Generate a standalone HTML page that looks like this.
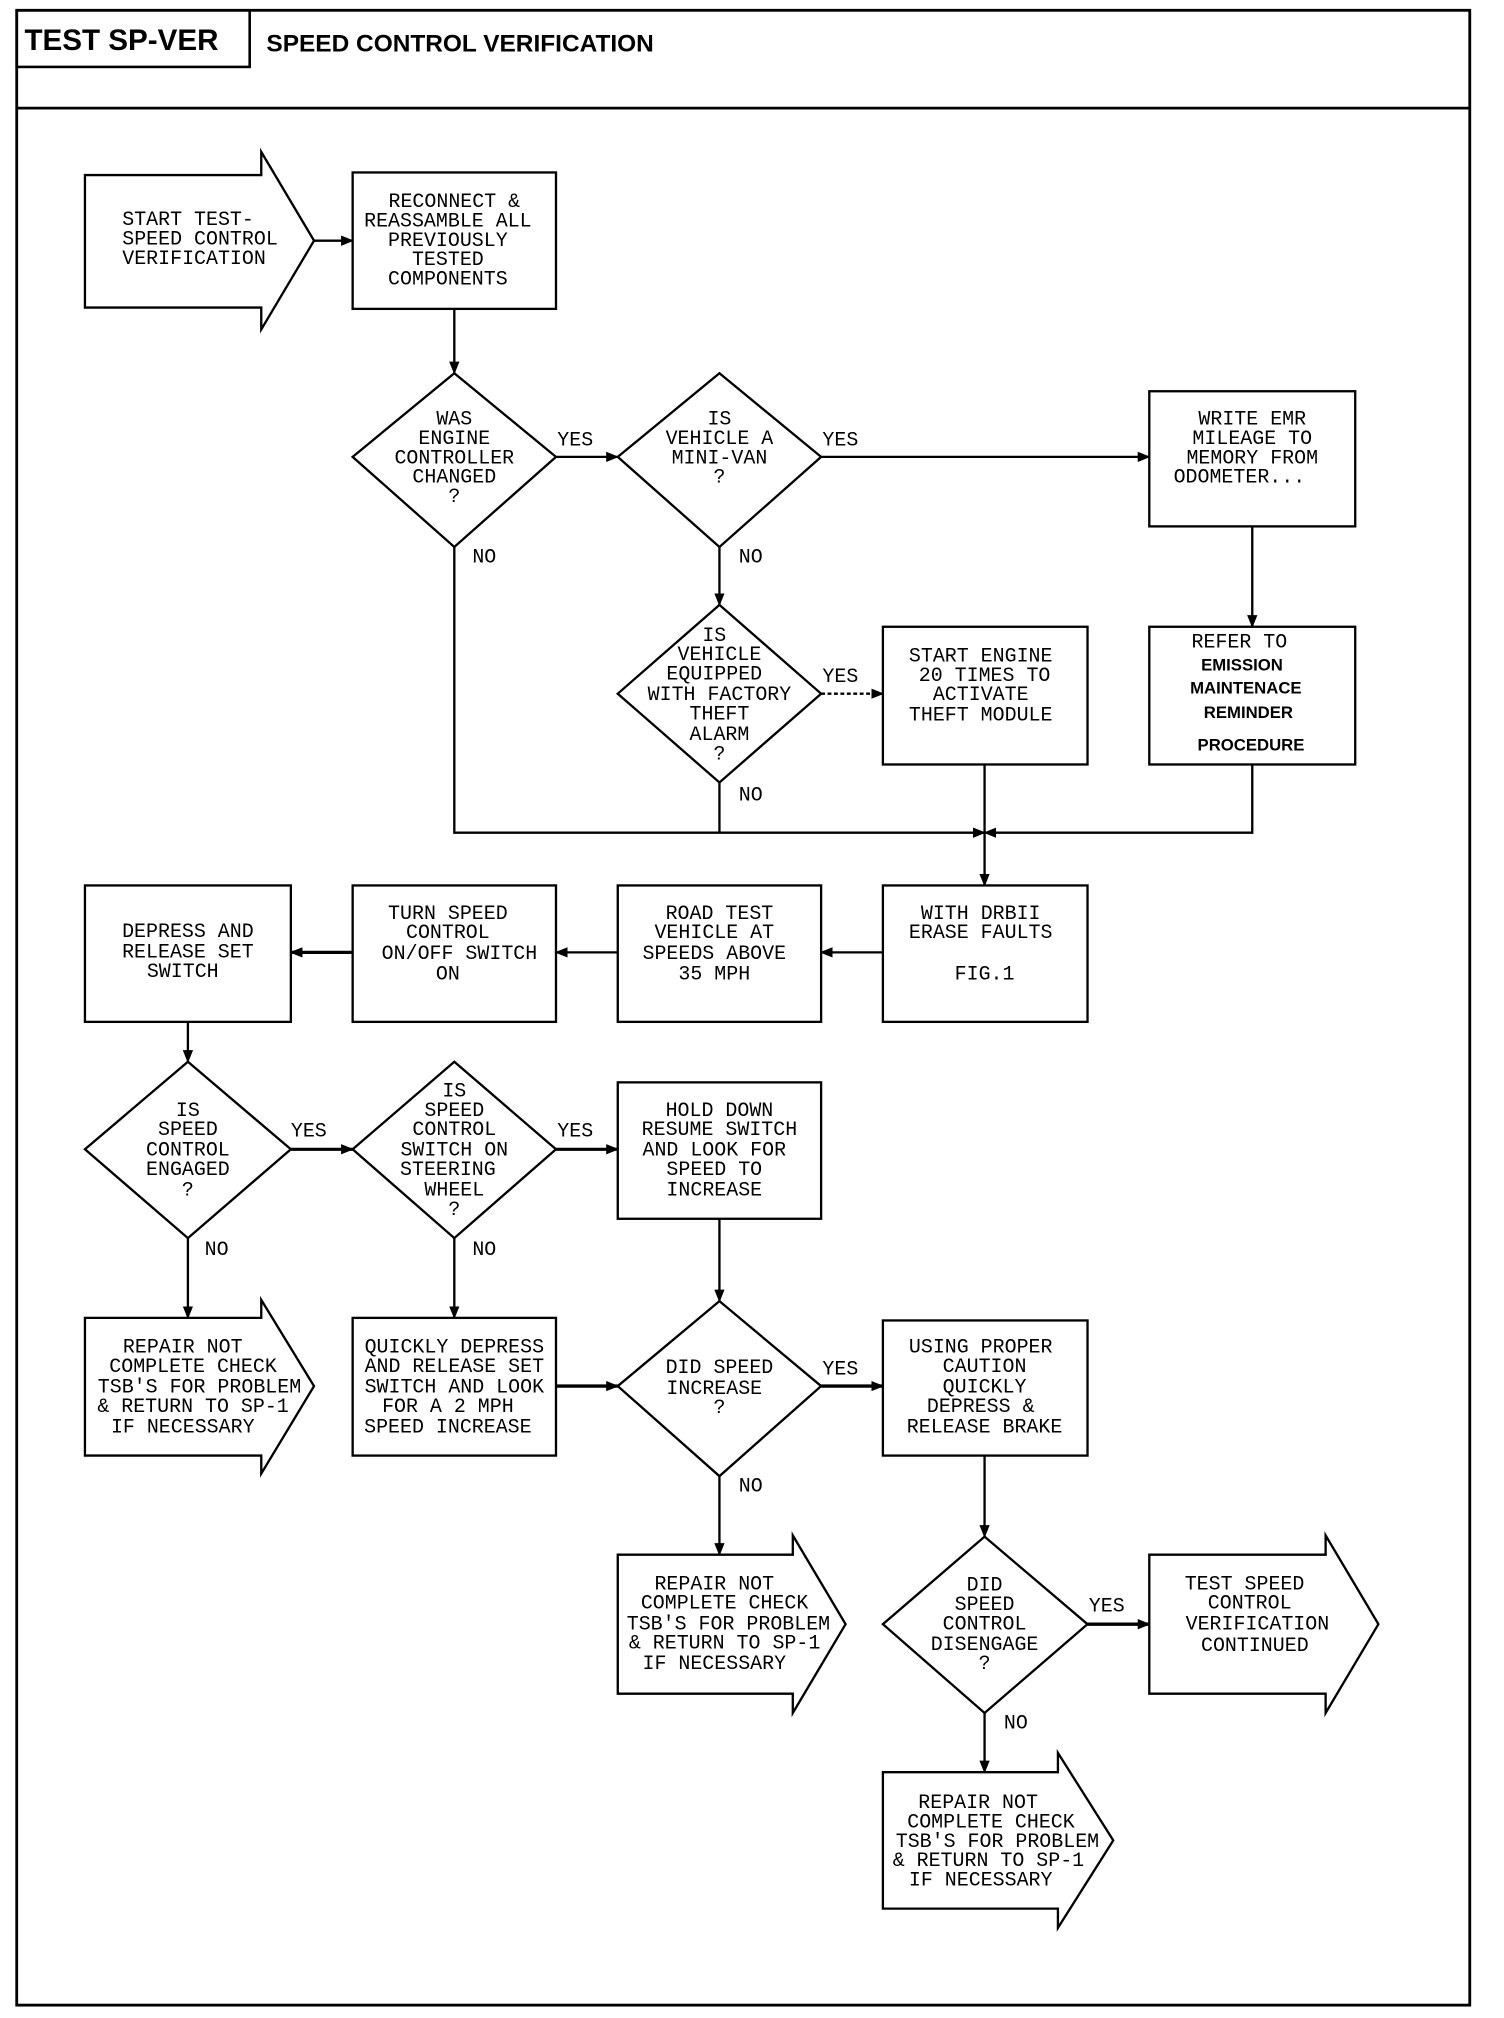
<!DOCTYPE html>
<html><head><meta charset="utf-8"><style>
html,body{margin:0;padding:0;background:#fff}
svg{display:block}
text{font-family:"Liberation Mono",monospace;font-size:15.5px;fill:#000}
.t{text-anchor:middle}
.b{font-family:"Liberation Sans",sans-serif;font-weight:bold}
</style></head><body>
<svg width="1504" height="2018" viewBox="0 0 1168.6 1568" preserveAspectRatio="none" xmlns="http://www.w3.org/2000/svg">
<defs><marker id="a" markerWidth="10" markerHeight="8" refX="9" refY="4" orient="auto" markerUnits="userSpaceOnUse"><path d="M0,0 L10,4 L0,8 Z" fill="#000"/></marker></defs>
<g fill="none" stroke="#000" stroke-width="1.8">
<rect x="13" y="8" width="1129" height="1550" stroke-width="2.2"/>
<rect x="13" y="8" width="181" height="44" stroke-width="2"/>
<line x1="13" y1="84" x2="1142" y2="84" stroke-width="2.2"/>
<path d="M66,136 H203 V118 L244,187 L203,256 V239 H66 Z"/>
<line x1="244" y1="187" x2="274" y2="187" marker-end="url(#a)"/>
<rect x="274" y="134" width="158" height="106"/>
<line x1="353" y1="240" x2="353" y2="290" marker-end="url(#a)"/>
<path d="M353,290 L432,355 L353,425 L274,355 Z"/>
<line x1="432" y1="355" x2="480" y2="355" marker-end="url(#a)"/>
<path d="M559,290 L638,355 L559,425 L480,355 Z"/>
<line x1="638" y1="355" x2="893" y2="355" marker-end="url(#a)"/>
<rect x="893" y="304" width="160" height="105"/>
<line x1="973" y1="409" x2="973" y2="487" marker-end="url(#a)"/>
<rect x="893" y="487" width="160" height="107"/>
<polyline points="353,425 353,647 765,647" marker-end="url(#a)"/>
<line x1="559" y1="425" x2="559" y2="470" marker-end="url(#a)"/>
<path d="M559,470 L638,539 L559,608 L480,539 Z"/>
<line x1="638" y1="539" x2="686" y2="539" stroke-dasharray="3,2" marker-end="url(#a)"/>
<rect x="686" y="487" width="159" height="107"/>
<line x1="559" y1="608" x2="559" y2="647"/>
<line x1="765" y1="594" x2="765" y2="688" marker-end="url(#a)"/>
<polyline points="973,594 973,647 765,647" marker-end="url(#a)"/>
<rect x="686" y="688" width="159" height="106"/>
<line x1="686" y1="740" x2="638" y2="740" marker-end="url(#a)"/>
<rect x="480" y="688" width="158" height="106"/>
<line x1="480" y1="740" x2="432" y2="740" marker-end="url(#a)"/>
<rect x="274" y="688" width="158" height="106"/>
<line x1="274" y1="740" x2="226" y2="740" stroke-width="2.6" marker-end="url(#a)"/>
<rect x="66" y="688" width="160" height="106"/>
<line x1="146" y1="794" x2="146" y2="825" marker-end="url(#a)"/>
<path d="M146,825 L226,893 L146,962 L66,893 Z"/>
<line x1="226" y1="893" x2="274" y2="893" stroke-width="2.4" marker-end="url(#a)"/>
<path d="M353,825 L432,893 L353,962 L274,893 Z"/>
<line x1="432" y1="893" x2="480" y2="893" stroke-width="2.4" marker-end="url(#a)"/>
<rect x="480" y="841" width="158" height="106"/>
<line x1="559" y1="947" x2="559" y2="1011" marker-end="url(#a)"/>
<line x1="146" y1="962" x2="146" y2="1024" marker-end="url(#a)"/>
<path d="M66,1024 H203 V1010 L244,1077 L203,1145 V1131 H66 Z"/>
<line x1="353" y1="962" x2="353" y2="1024" marker-end="url(#a)"/>
<rect x="274" y="1024" width="158" height="107"/>
<line x1="432" y1="1077" x2="480" y2="1077" stroke-width="2.6" marker-end="url(#a)"/>
<path d="M559,1011 L638,1077 L559,1147 L480,1077 Z"/>
<line x1="638" y1="1077" x2="686" y2="1077" stroke-width="2.6" marker-end="url(#a)"/>
<rect x="686" y="1026" width="159" height="105"/>
<line x1="559" y1="1147" x2="559" y2="1208" marker-end="url(#a)"/>
<path d="M480,1208 H616 V1193 L657,1262 L616,1331 V1316 H480 Z"/>
<line x1="765" y1="1131" x2="765" y2="1194" marker-end="url(#a)"/>
<path d="M765,1194 L845,1262 L765,1331 L686,1262 Z"/>
<line x1="845" y1="1262" x2="893" y2="1262" stroke-width="2.6" marker-end="url(#a)"/>
<path d="M893,1208 H1030 V1193 L1071,1262 L1030,1331 V1316 H893 Z"/>
<line x1="765" y1="1331" x2="765" y2="1377" marker-end="url(#a)"/>
<path d="M686,1377 H822 V1362 L865,1430 L822,1498 V1483 H686 Z"/>
</g>
<text class="b" x="19" y="39" style="font-size:23px">TEST SP-VER</text>
<text class="b" x="207" y="40" style="font-size:19px">SPEED CONTROL VERIFICATION</text>

<text x="95" y="175">START TEST-</text><text x="95" y="190">SPEED CONTROL</text><text x="95" y="205">VERIFICATION</text>
<g class="t">
<text x="353" y="161">RECONNECT &amp;</text><text x="348" y="176">REASSAMBLE ALL</text><text x="348" y="191">PREVIOUSLY</text><text x="348" y="206">TESTED</text><text x="348" y="221">COMPONENTS</text>
<text x="353" y="330">WAS</text><text x="353" y="345">ENGINE</text><text x="353" y="360">CONTROLLER</text><text x="353" y="375">CHANGED</text><text x="353" y="390">?</text>
<text x="559" y="330">IS</text><text x="559" y="345">VEHICLE A</text><text x="559" y="360">MINI-VAN</text><text x="559" y="375">?</text>
<text x="973" y="330">WRITE EMR</text><text x="973" y="345">MILEAGE TO</text><text x="973" y="360">MEMORY FROM</text><text x="963" y="375">ODOMETER...</text>
<text x="963" y="503">REFER TO</text>
<text class="b" x="965" y="521" style="font-size:13px">EMISSION</text><text class="b" x="968" y="539" style="font-size:13px">MAINTENACE</text><text class="b" x="970" y="558" style="font-size:13px">REMINDER</text><text class="b" x="972" y="583" style="font-size:13px">PROCEDURE</text>
<text x="555" y="498">IS</text><text x="559" y="513">VEHICLE</text><text x="555" y="528">EQUIPPED</text><text x="559" y="544">WITH FACTORY</text><text x="559" y="559">THEFT</text><text x="559" y="575">ALARM</text><text x="559" y="590">?</text>
<text x="762" y="514">START ENGINE</text><text x="765" y="529">20 TIMES TO</text><text x="762" y="544">ACTIVATE</text><text x="762" y="560">THEFT MODULE</text>
<text x="762" y="714">WITH DRBII</text><text x="762" y="729">ERASE FAULTS</text><text x="765" y="761">FIG.1</text>
<text x="559" y="714">ROAD TEST</text><text x="555" y="729">VEHICLE AT</text><text x="555" y="745">SPEEDS ABOVE</text><text x="555" y="761">35 MPH</text>
<text x="348" y="714">TURN SPEED</text><text x="348" y="729">CONTROL</text><text x="357" y="745">ON/OFF SWITCH</text><text x="348" y="761">ON</text>
<text x="146" y="728">DEPRESS AND</text><text x="146" y="744">RELEASE SET</text><text x="142" y="759">SWITCH</text>
<text x="146" y="867">IS</text><text x="146" y="882">SPEED</text><text x="146" y="898">CONTROL</text><text x="146" y="913">ENGAGED</text><text x="146" y="929">?</text>
<text x="353" y="852">IS</text><text x="353" y="867">SPEED</text><text x="353" y="882">CONTROL</text><text x="353" y="898">SWITCH ON</text><text x="348" y="913">STEERING</text><text x="353" y="929">WHEEL</text><text x="353" y="944">?</text>
<text x="559" y="867">HOLD DOWN</text><text x="559" y="882">RESUME SWITCH</text><text x="555" y="898">AND LOOK FOR</text><text x="555" y="913">SPEED TO</text><text x="555" y="929">INCREASE</text>
<text x="142" y="1051">REPAIR NOT</text><text x="150" y="1066">COMPLETE CHECK</text><text x="155" y="1082">TSB'S FOR PROBLEM</text><text x="150" y="1097">&amp; RETURN TO SP-1</text><text x="142" y="1113">IF NECESSARY</text>
<text x="353" y="1051">QUICKLY DEPRESS</text><text x="353" y="1066">AND RELEASE SET</text><text x="353" y="1082">SWITCH AND LOOK</text><text x="348" y="1097">FOR A 2 MPH</text><text x="348" y="1113">SPEED INCREASE</text>
<text x="559" y="1067">DID SPEED</text><text x="555" y="1083">INCREASE</text><text x="559" y="1098">?</text>
<text x="762" y="1051">USING PROPER</text><text x="765" y="1066">CAUTION</text><text x="765" y="1082">QUICKLY</text><text x="762" y="1097">DEPRESS &amp;</text><text x="765" y="1113">RELEASE BRAKE</text>
<text x="555" y="1235">REPAIR NOT</text><text x="563" y="1250">COMPLETE CHECK</text><text x="566" y="1266">TSB'S FOR PROBLEM</text><text x="563" y="1281">&amp; RETURN TO SP-1</text><text x="555" y="1297">IF NECESSARY</text>
<text x="765" y="1236">DID</text><text x="765" y="1251">SPEED</text><text x="765" y="1266">CONTROL</text><text x="765" y="1282">DISENGAGE</text><text x="765" y="1297">?</text>
<text x="967" y="1235">TEST SPEED</text><text x="971" y="1250">CONTROL</text><text x="977" y="1266">VERIFICATION</text><text x="975" y="1283">CONTINUED</text>
<text x="760" y="1405">REPAIR NOT</text><text x="770" y="1420">COMPLETE CHECK</text><text x="775" y="1435">TSB'S FOR PROBLEM</text><text x="768" y="1450">&amp; RETURN TO SP-1</text><text x="762" y="1465">IF NECESSARY</text>
</g>
<text x="433" y="346">YES</text><text x="639" y="346">YES</text><text x="639" y="530">YES</text>
<text x="367" y="437">NO</text><text x="574" y="437">NO</text><text x="574" y="622">NO</text>
<text x="226" y="883">YES</text><text x="433" y="883">YES</text>
<text x="159" y="975">NO</text><text x="367" y="975">NO</text>
<text x="639" y="1068">YES</text><text x="574" y="1159">NO</text>
<text x="846" y="1252">YES</text><text x="780" y="1343">NO</text>
</svg>
</body></html>
